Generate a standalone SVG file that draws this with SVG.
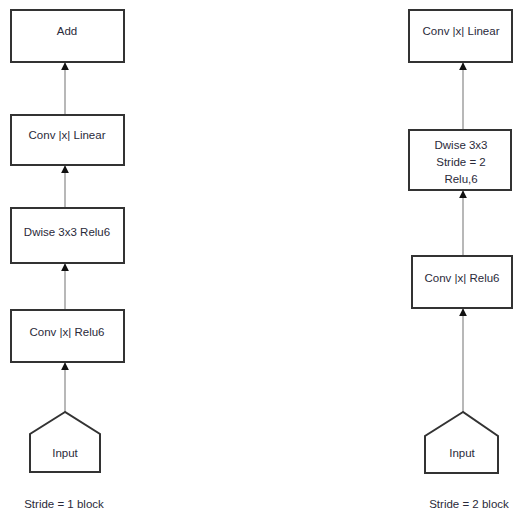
<svg xmlns="http://www.w3.org/2000/svg" width="514" height="510" viewBox="0 0 514 510">
<defs>
<style>
.box{fill:#fff;stroke:#333;stroke-width:2}
.lbl{font-family:"Liberation Sans",Arial,sans-serif;font-size:11.5px;fill:#2a2a3a;text-anchor:middle}
.con{stroke:#b8b8b8;stroke-width:2;fill:none;marker-end:url(#ah)}
</style>
<marker id="ah" viewBox="0 0 10 10" refX="9" refY="5" markerWidth="4" markerHeight="4" orient="auto" markerUnits="strokeWidth">
<path d="M0,0 L10,5 L0,10 z" fill="#111"/>
</marker>
</defs>
<rect width="514" height="510" fill="#fff"/>
<g id="connectors">
<line class="con" x1="65" y1="115" x2="65" y2="63"/>
<line class="con" x1="65" y1="208" x2="65" y2="166"/>
<line class="con" x1="65" y1="310" x2="65" y2="264"/>
<line class="con" x1="65" y1="412" x2="65" y2="363"/>
<line class="con" x1="463" y1="130" x2="463" y2="63"/>
<line class="con" x1="463" y1="256" x2="463" y2="191"/>
<line class="con" x1="463" y1="412" x2="463" y2="309"/>
</g>
<g id="add"><rect class="box" x="11" y="10" width="113" height="52"/><text class="lbl" x="67" y="35">Add</text></g>
<g id="conv-linear-1"><rect class="box" x="11" y="115" width="113" height="50"/><text class="lbl" x="67" y="139">Conv |x| Linear</text></g>
<g id="dwise-1"><rect class="box" x="11" y="208" width="113" height="55"/><text class="lbl" x="67" y="236">Dwise 3x3 Relu6</text></g>
<g id="conv-relu6-1"><rect class="box" x="11" y="310" width="113" height="52"/><text class="lbl" x="67" y="336">Conv |x| Relu6</text></g>
<g id="input-1"><path class="box" d="M65,412 L30,434 L30,472 L100,472 L100,434 Z"/><text class="lbl" x="65" y="457">Input</text></g>
<text class="lbl" x="64" y="508">Stride = 1 block</text>
<g id="conv-linear-2"><rect class="box" x="409" y="10" width="103" height="52"/><text class="lbl" x="461" y="35">Conv |x| Linear</text></g>
<g id="dwise-2"><rect class="box" x="409" y="130" width="102" height="60"/><text class="lbl" x="461" y="149">Dwise 3x3</text><text class="lbl" x="461" y="166">Stride = 2</text><text class="lbl" x="461" y="183">Relu,6</text></g>
<g id="conv-relu6-2"><rect class="box" x="412" y="256" width="100" height="52"/><text class="lbl" x="462" y="282">Conv |x| Relu6</text></g>
<g id="input-2"><path class="box" d="M463,412 L425,436 L425,473 L498,473 L498,436 Z"/><text class="lbl" x="462" y="457">Input</text></g>
<text class="lbl" x="469" y="508">Stride = 2 block</text>
</svg>
